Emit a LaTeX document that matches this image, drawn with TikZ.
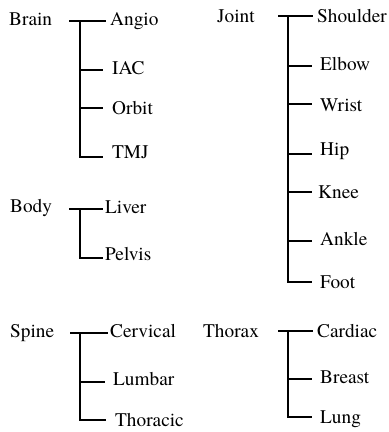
\documentclass[tikz,border=0pt]{standalone}
\usepackage{fontspec}
\newfontfamily\tnr{TeX Gyre Termes}
\newcommand{\lt}[1]{\tnr\fontsize{19.3}{23}\selectfont #1}
\begin{document}
\begin{tikzpicture}[x=1pt,y=-1pt,
  lbl/.style={inner sep=0pt, anchor=base west},
  conn/.style={line width=1.5pt}]
\useasboundingbox (0,0) rectangle (389,432);
% ---- Brain
\node[lbl] (brain) at (9,25) {\lt{Brain}};
\node[lbl] (angio) at (110,25) {\lt{Angio}};
\node[lbl] (iac) at (112,74) {\lt{IAC}};
\node[lbl] (orbit) at (112,114) {\lt{Orbit}};
\node[lbl] (tmj) at (112,158) {\lt{TMJ}};
\coordinate (brainS) at (69,21);
\coordinate (brainT) at (80,21);
\coordinate (angioE) at (106,21);
\coordinate (iacE) at (103,70);
\coordinate (orbitE) at (103,108);
\coordinate (tmjE) at (103,157);
\draw[conn] (brainS) -- (angioE);
\draw[conn] (brainT) |- (tmjE);
\draw[conn] (iacE -| brainT) -- (iacE);
\draw[conn] (orbitE -| brainT) -- (orbitE);
% ---- Body
\node[lbl] (body) at (10,212) {\lt{Body}};
\node[lbl] (liver) at (105,213) {\lt{Liver}};
\node[lbl] (pelvis) at (105,260) {\lt{Pelvis}};
\coordinate (bodyS) at (69,209);
\coordinate (bodyT) at (80,209);
\coordinate (liverE) at (103,209);
\coordinate (pelvisE) at (103,258);
\draw[conn] (bodyS) -- (liverE);
\draw[conn] (bodyT) |- (pelvisE);
% ---- Spine
\node[lbl] (spine) at (10,337) {\lt{Spine}};
\node[lbl] (cervical) at (110,337) {\lt{Cervical}};
\node[lbl] (lumbar) at (113,385) {\lt{Lumbar}};
\node[lbl] (thoracic) at (115,426) {\lt{Thoracic}};
\coordinate (spineS) at (70,333);
\coordinate (spineT) at (80,333);
\coordinate (cervicalE) at (108,333);
\coordinate (lumbarE) at (105,382);
\coordinate (thoracicE) at (106,420);
\draw[conn] (spineS) -- (cervicalE);
\draw[conn] (spineT) |- (thoracicE);
\draw[conn] (lumbarE -| spineT) -- (lumbarE);
% ---- Joint
\node[lbl] (joint) at (217,22) {\lt{Joint}};
\node[lbl] (shoulder) at (317,22) {\lt{Shoulder}};
\node[lbl] (elbow) at (320,70) {\lt{Elbow}};
\node[lbl] (wrist) at (320,111) {\lt{Wrist}};
\node[lbl] (hip) at (320,155) {\lt{Hip}};
\node[lbl] (knee) at (318,198) {\lt{Knee}};
\node[lbl] (ankle) at (320,245) {\lt{Ankle}};
\node[lbl] (foot) at (320,288) {\lt{Foot}};
\coordinate (jointS) at (278,16);
\coordinate (jointT) at (288,16);
\coordinate (shoulderE) at (313,16);
\coordinate (elbowE) at (312,66);
\coordinate (wristE) at (312,104);
\coordinate (hipE) at (312,154);
\coordinate (kneeE) at (312,192);
\coordinate (ankleE) at (312,241);
\coordinate (footE) at (312,282);
\draw[conn] (jointS) -- (shoulderE);
\draw[conn] (jointT) |- (footE);
\foreach \c in {elbowE,wristE,hipE,kneeE,ankleE}
  \draw[conn] (\c -| jointT) -- (\c);
% ---- Thorax
\node[lbl] (thorax) at (203,337) {\lt{Thorax}};
\node[lbl] (cardiac) at (317,337) {\lt{Cardiac}};
\node[lbl] (breast) at (320,383) {\lt{Breast}};
\node[lbl] (lung) at (320,423) {\lt{Lung}};
\coordinate (thoraxS) at (278,331);
\coordinate (thoraxT) at (288,331);
\coordinate (cardiacE) at (313,331);
\coordinate (breastE) at (312,379);
\coordinate (lungE) at (312,417);
\draw[conn] (thoraxS) -- (cardiacE);
\draw[conn] (thoraxT) |- (lungE);
\draw[conn] (breastE -| thoraxT) -- (breastE);
\end{tikzpicture}
\end{document}
